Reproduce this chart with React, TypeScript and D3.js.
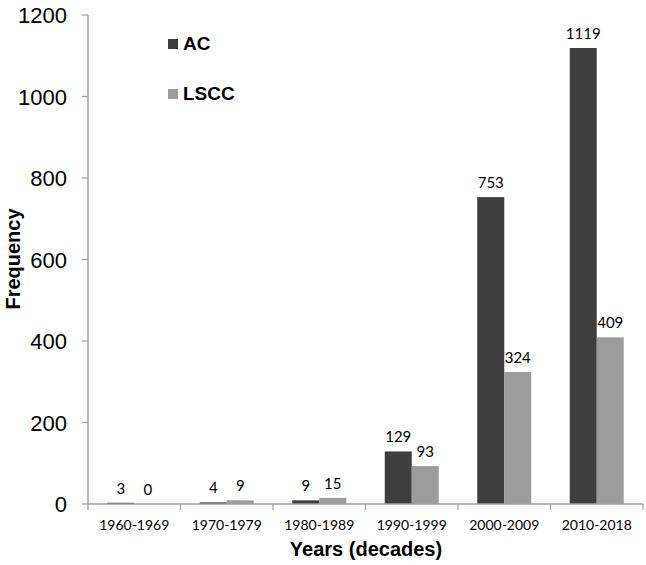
import React from "react";
import * as d3 from "d3";

const categories = ["1960-1969", "1970-1979", "1980-1989", "1990-1999", "2000-2009", "2010-2018"];
const acValues = [3, 4, 9, 129, 753, 1119];
const lsccValues = [0, 9, 15, 93, 324, 409];
const yTicks = [0, 200, 400, 600, 800, 1000, 1200];
const seriesNames = ["AC", "LSCC"];
const seriesColors = ["#3e3e3e", "#9c9c9c"];

export default function App() {
  const W = 646, H = 565;
  const x0 = 88, x1 = 643;
  const yBottom = 504, yTop = 15;
  const x = d3.scaleBand<string>().domain(categories).range([x0, x1]).paddingInner(0).paddingOuter(0);
  const y = d3.scaleLinear().domain([0, 1200]).range([yBottom, yTop]);
  const barW = 27;
  const axisColor = "#a0a0a0";
  const series = [acValues, lsccValues];
  const boundaries = [x0, ...categories.map((c) => (x(c) as number) + x.bandwidth())];

  return (
    <svg width={W} height={H} style={{ position: "absolute", left: 0, top: 0, background: "#fff" }}>
      {/* bars */}
      {series.map((vals, si) =>
        categories.map((c, i) => {
          const cx = (x(c) as number) + x.bandwidth() / 2;
          const bx = cx - barW + si * barW;
          return (
            <g key={`${si}-${i}`}>
              <rect x={bx} y={y(vals[i])} width={barW} height={yBottom - y(vals[i])} fill={seriesColors[si]} />
              <text
                x={bx + barW / 2}
                y={y(vals[i]) - 9}
                textAnchor="middle"
                fontFamily="Lato, 'Open Sans', sans-serif"
                fontSize={15}
                fill="#000"
              >
                {vals[i]}
              </text>
            </g>
          );
        })
      )}
      {/* y axis */}
      <line x1={x0} x2={x0} y1={yTop} y2={yBottom} stroke={axisColor} strokeWidth={1.5} />
      {yTicks.map((t) => (
        <g key={t}>
          <line x1={x0 - 6} x2={x0} y1={y(t)} y2={y(t)} stroke={axisColor} strokeWidth={1.2} />
          <text x={67} y={y(t) + 8} textAnchor="end" fontFamily="'Liberation Sans', Arial, sans-serif" fontSize={22} fill="#000">
            {t}
          </text>
        </g>
      ))}
      {/* x axis */}
      <line x1={x0} x2={x1} y1={yBottom} y2={yBottom} stroke={axisColor} strokeWidth={1.5} />
      {boundaries.map((bx, i) => (
        <line key={`t${i}`} x1={bx} x2={bx} y1={yBottom} y2={yBottom + 6} stroke={axisColor} strokeWidth={1.2} />
      ))}
      {categories.map((c) => (
        <text
          key={c}
          x={(x(c) as number) + x.bandwidth() / 2}
          y={530}
          textAnchor="middle"
          fontFamily="Lato, 'Open Sans', sans-serif"
          fontSize={14}
          fill="#000"
        >
          {c}
        </text>
      ))}
      {/* axis titles */}
      <text x={366} y={556} textAnchor="middle" fontFamily="'Liberation Sans', Arial, sans-serif" fontWeight="bold" fontSize={20} fill="#000">
        Years (decades)
      </text>
      <text
        transform={`translate(20,259) rotate(-90)`}
        textAnchor="middle"
        fontFamily="'Liberation Sans', Arial, sans-serif"
        fontWeight="bold"
        fontSize={20}
        fill="#000"
      >
        Frequency
      </text>
      {/* legend */}
      {seriesNames.map((n, i) => (
        <g key={n} transform={`translate(168, ${39 + i * 50})`}>
          <rect x={0} y={0} width={10} height={10} fill={seriesColors[i]} />
          <text x={15} y={11} fontFamily="'Liberation Sans', Arial, sans-serif" fontWeight="bold" fontSize={19} fill="#000">
            {n}
          </text>
        </g>
      ))}
    </svg>
  );
}
